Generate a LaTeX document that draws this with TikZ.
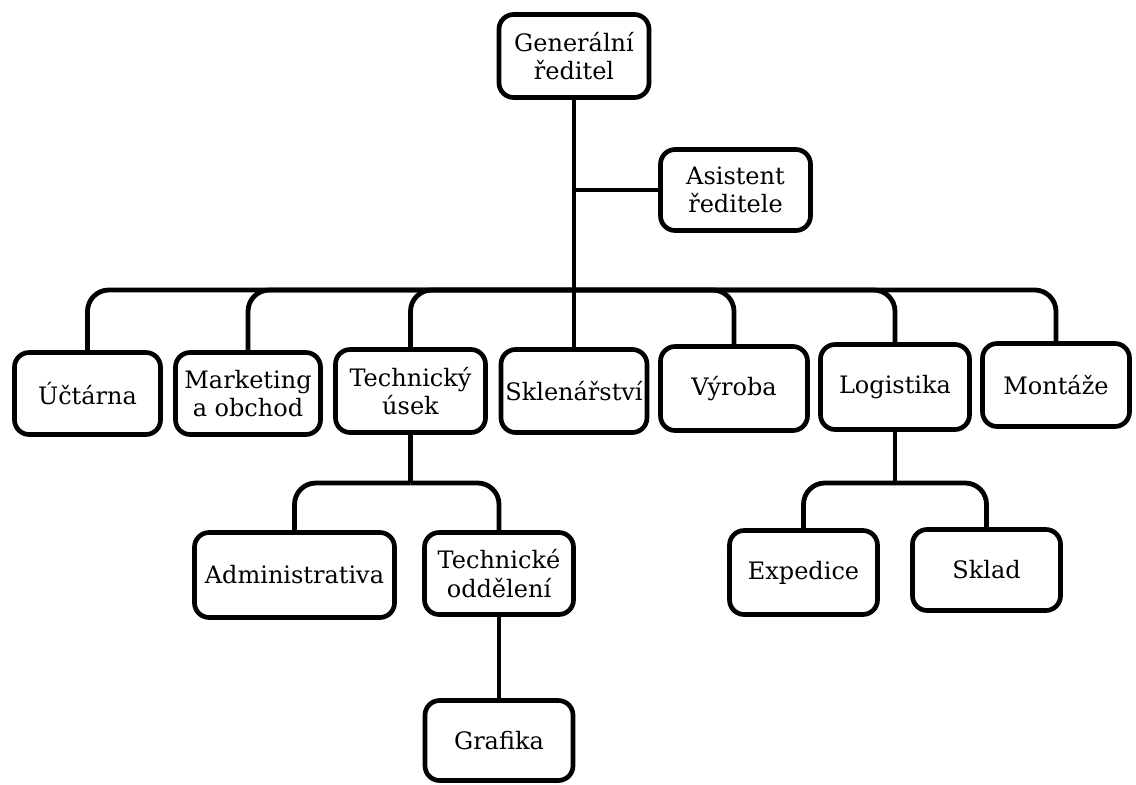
\documentclass[tikz,border=0pt]{standalone}
\usepackage{fontspec}
\setmainfont{DejaVu Serif}
\begin{document}
\begin{tikzpicture}[x=0.75pt,y=-0.75pt,
  unit/.style 2 args={draw, line width=3.5pt, rounded corners=11pt, align=center,
    inner sep=0pt, font=\fontsize{18}{21.5}\selectfont,
    minimum width={(#1-5)*0.75pt}, minimum height={(#2-5)*0.75pt}},
  link/.style={line width=3.6pt},
  bus/.style={link, rounded corners=16pt}]
\useasboundingbox (0,0) rectangle (1136,785);

% top management
\node[unit={155}{88}] (gen) at (574,56) {Generální\\ředitel};
\node[unit={155}{86}] (asist) at (735.5,190) {Asistent\\ředitele};

% departments
\node[unit={151}{87}] (ucet) at (87.5,393.5) {Účtárna};
\node[unit={150}{87}] (mark) at (248,393.5) {Marketing\\a obchod};
\node[unit={155}{88}] (tech) at (410.5,391) {Technický\\úsek};
\node[unit={151}{88}] (skl)  at (574,391) {Sklenářství};
\node[unit={152}{89}] (vyr)  at (734,388.5) {Výroba};
\node[unit={154}{90}] (log)  at (895,387) {Logistika};
\node[unit={152}{88}] (mon)  at (1056,385) {Montáže};

% technical section
\node[unit={205}{90}] (adm)  at (294.5,575) {Administrativa};
\node[unit={154}{87}] (todd) at (499,573.5) {Technické\\oddělení};
\node[unit={153}{85}] (graf) at (499,740.5) {Grafika};

% logistics
\node[unit={153}{89}] (exp)   at (803.5,572.5) {Expedice};
\node[unit={153}{86}] (sklad) at (986.5,570) {Sklad};

% main trunk and bus
\coordinate (asj) at (574,190);
\coordinate (hub) at (574,290);
\draw[link] (gen.south) -- (skl.north);
\draw[link] (asj) -- (asist.west);
\foreach \c in {ucet,mark,tech,vyr,log,mon}
  \draw[bus] (hub) -| (\c.north);

% technical sub-tree
\coordinate (tj) at (410.5,483);
\draw[link] (tech.south) -- (tj);
\draw[bus] (tj) -| (adm.north);
\draw[bus] (tj) -| (todd.north);
\draw[link] (todd.south) -- (graf.north);

% logistics sub-tree
\coordinate (lj) at (895,483);
\draw[link] (log.south) -- (lj);
\draw[bus] (lj) -| (exp.north);
\draw[bus] (lj) -| (sklad.north);
\end{tikzpicture}
\end{document}
